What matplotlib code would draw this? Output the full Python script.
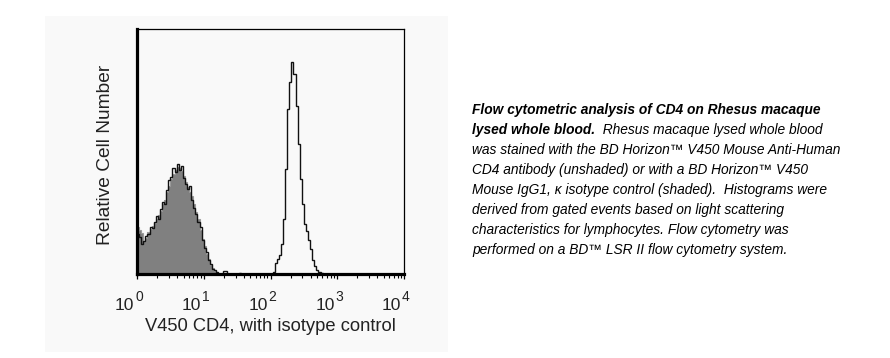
import numpy as np
import matplotlib
matplotlib.use("Agg")
import matplotlib.pyplot as plt
import matplotlib.transforms as mtransforms
from matplotlib.patches import Rectangle
from matplotlib.ticker import LogLocator, NullFormatter, FixedLocator

plt.rcParams['font.family'] = ['Liberation Sans', 'DejaVu Sans']

# ---- data: histogram channels, 32 channels per decade on 10^0..10^4 ----
channels_per_decade = 32
n_channels = 128

# isotype control (shaded), counts starting at channel 0
isotype_start = 0
isotype_counts = [47, 44, 41, 33, 36, 42, 45, 48, 51, 55, 59, 63, 70, 74, 82, 88,
                  95, 100, 104, 107, 106, 103, 98, 92, 87, 82, 78, 70, 62, 55, 44, 35,
                  28, 20, 15, 9, 6, 3, 1]

# CD4 stained (unshaded), negative population starting at channel 0
cd4_neg_start = 0
cd4_neg_counts = [40, 37, 30, 33, 38, 40, 47, 46, 52, 58, 55, 65, 72, 70, 84, 94,
                  97, 106, 102, 110, 104, 108, 96, 90, 85, 88, 74, 66, 60, 52, 47, 34,
                  26, 22, 14, 10, 5, 4, 2, 0, 0, 3, 3, 0, 0, 0, 0, 0, 0, 1]
# CD4 positive population starting at channel 65
cd4_pos_start = 65
cd4_pos_counts = [2, 11, 15, 19, 30, 55, 105, 165, 192, 212, 200, 168, 130, 95, 70, 50,
                  43, 34, 25, 14, 8, 4, 2, 1]

x_label = "V450 CD4, with isotype control"
y_label = "Relative Cell Number"
decade_ticks = [1, 10, 100, 1000, 10000]
decade_base = "10"
decade_exponents = ["0", "1", "2", "3", "4"]

def full(start, counts):
    arr = np.zeros(n_channels)
    arr[start:start + len(counts)] = counts
    return arr

iso = full(isotype_start, isotype_counts)
cd4 = full(cd4_neg_start, cd4_neg_counts) + full(cd4_pos_start, cd4_pos_counts)
edges = 10 ** (np.arange(n_channels + 1) / channels_per_decade)

W, H = 890, 358
fig = plt.figure(figsize=(W / 100, H / 100), dpi=100)
fig.patch.set_facecolor('white')
panel_bg = '#f9f9f9'
fig.patches.append(Rectangle((45 / W, 6 / H), 403 / W, 336 / H, transform=fig.transFigure,
                             facecolor=panel_bg, edgecolor='none', zorder=-5))

ax = fig.add_axes([137 / W, 84 / H, 267 / W, 245 / H])
ax.set_zorder(2)
ax.set_facecolor(panel_bg)
ax.set_xscale('log')
ax.set_xlim(1, 10000)
ax.set_ylim(0, 245)

ax.stairs(iso, edges, fill=True, facecolor='#808080', edgecolor='#808080', zorder=2)
ax.stairs(iso, edges, color='#999999', lw=0.8, zorder=2.5)
ax.stairs(cd4, edges, color='#111111', lw=1.0, zorder=3)

for s in ['left', 'bottom']:
    ax.spines[s].set_linewidth(2.3)
for s in ['top', 'right']:
    ax.spines[s].set_linewidth(0.9)
for s in ax.spines.values():
    s.set_color('black')
    s.set_zorder(4)

ax.yaxis.set_visible(False)
ax.xaxis.set_major_locator(FixedLocator(decade_ticks))
ax.xaxis.set_major_formatter(NullFormatter())
ax.xaxis.set_minor_locator(LogLocator(base=10, subs=np.arange(2, 10)))
ax.xaxis.set_minor_formatter(NullFormatter())
ax.tick_params(axis='x', which='major', direction='out', length=3.5, width=0.9)
ax.tick_params(axis='x', which='minor', direction='out', length=2.6, width=0.8)

# decade tick labels: "10" with a large superscript exponent
txt_col = '#222222'
blend = mtransforms.blended_transform_factory(ax.transData, fig.transFigure)
base_tr = mtransforms.offset_copy(blend, fig=fig, x=-2.5, y=0, units='dots')
sup_tr = mtransforms.offset_copy(blend, fig=fig, x=-2.0, y=0, units='dots')
for t, e in zip(decade_ticks, decade_exponents):
    ax.text(t, 1 - 309.5 / H, decade_base, transform=base_tr, ha='right', va='baseline',
            fontsize=12.5, color=txt_col, clip_on=False)
    ax.text(t, 1 - 301 / H, e, transform=sup_tr, ha='left', va='baseline',
            fontsize=10, color=txt_col, clip_on=False)

fig.text(270.5 / W, 1 - 331 / H, x_label, ha='center', va='baseline',
         fontsize=13.2, color=txt_col)
fig.text(105 / W, 1 - 154.5 / H, y_label, rotation=90, ha='center', va='center',
         fontsize=13.8, color=txt_col)

# caption
lines = [
    [("Flow cytometric analysis of CD4 on Rhesus macaque", 'bold')],
    [("lysed whole blood.", 'bold'), ("  Rhesus macaque lysed whole blood", 'normal')],
    [("was stained with the BD Horizon\u2122 V450 Mouse Anti-Human", 'normal')],
    [("CD4 antibody (unshaded) or with a BD Horizon\u2122 V450", 'normal')],
    [("Mouse IgG1, \u03ba isotype control (shaded).  Histograms were", 'normal')],
    [("derived from gated events based on light scattering", 'normal')],
    [("characteristics for lymphocytes. Flow cytometry was", 'normal')],
    [("performed on a BD\u2122 LSR II flow cytometry system.", 'normal')],
]
renderer = fig.canvas.get_renderer()
x0 = 472
y0 = 114
dy = 20
for i, parts in enumerate(lines):
    x = x0
    for txt, wt in parts:
        t = fig.text(x / W, 1 - (y0 + i * dy) / H, txt, ha='left', va='baseline',
                     fontsize=9.9, style='italic', weight=wt, color='black')
        bb = t.get_window_extent(renderer=renderer)
        x = x + bb.width

fig.savefig('out.png', dpi=100, facecolor='white')
